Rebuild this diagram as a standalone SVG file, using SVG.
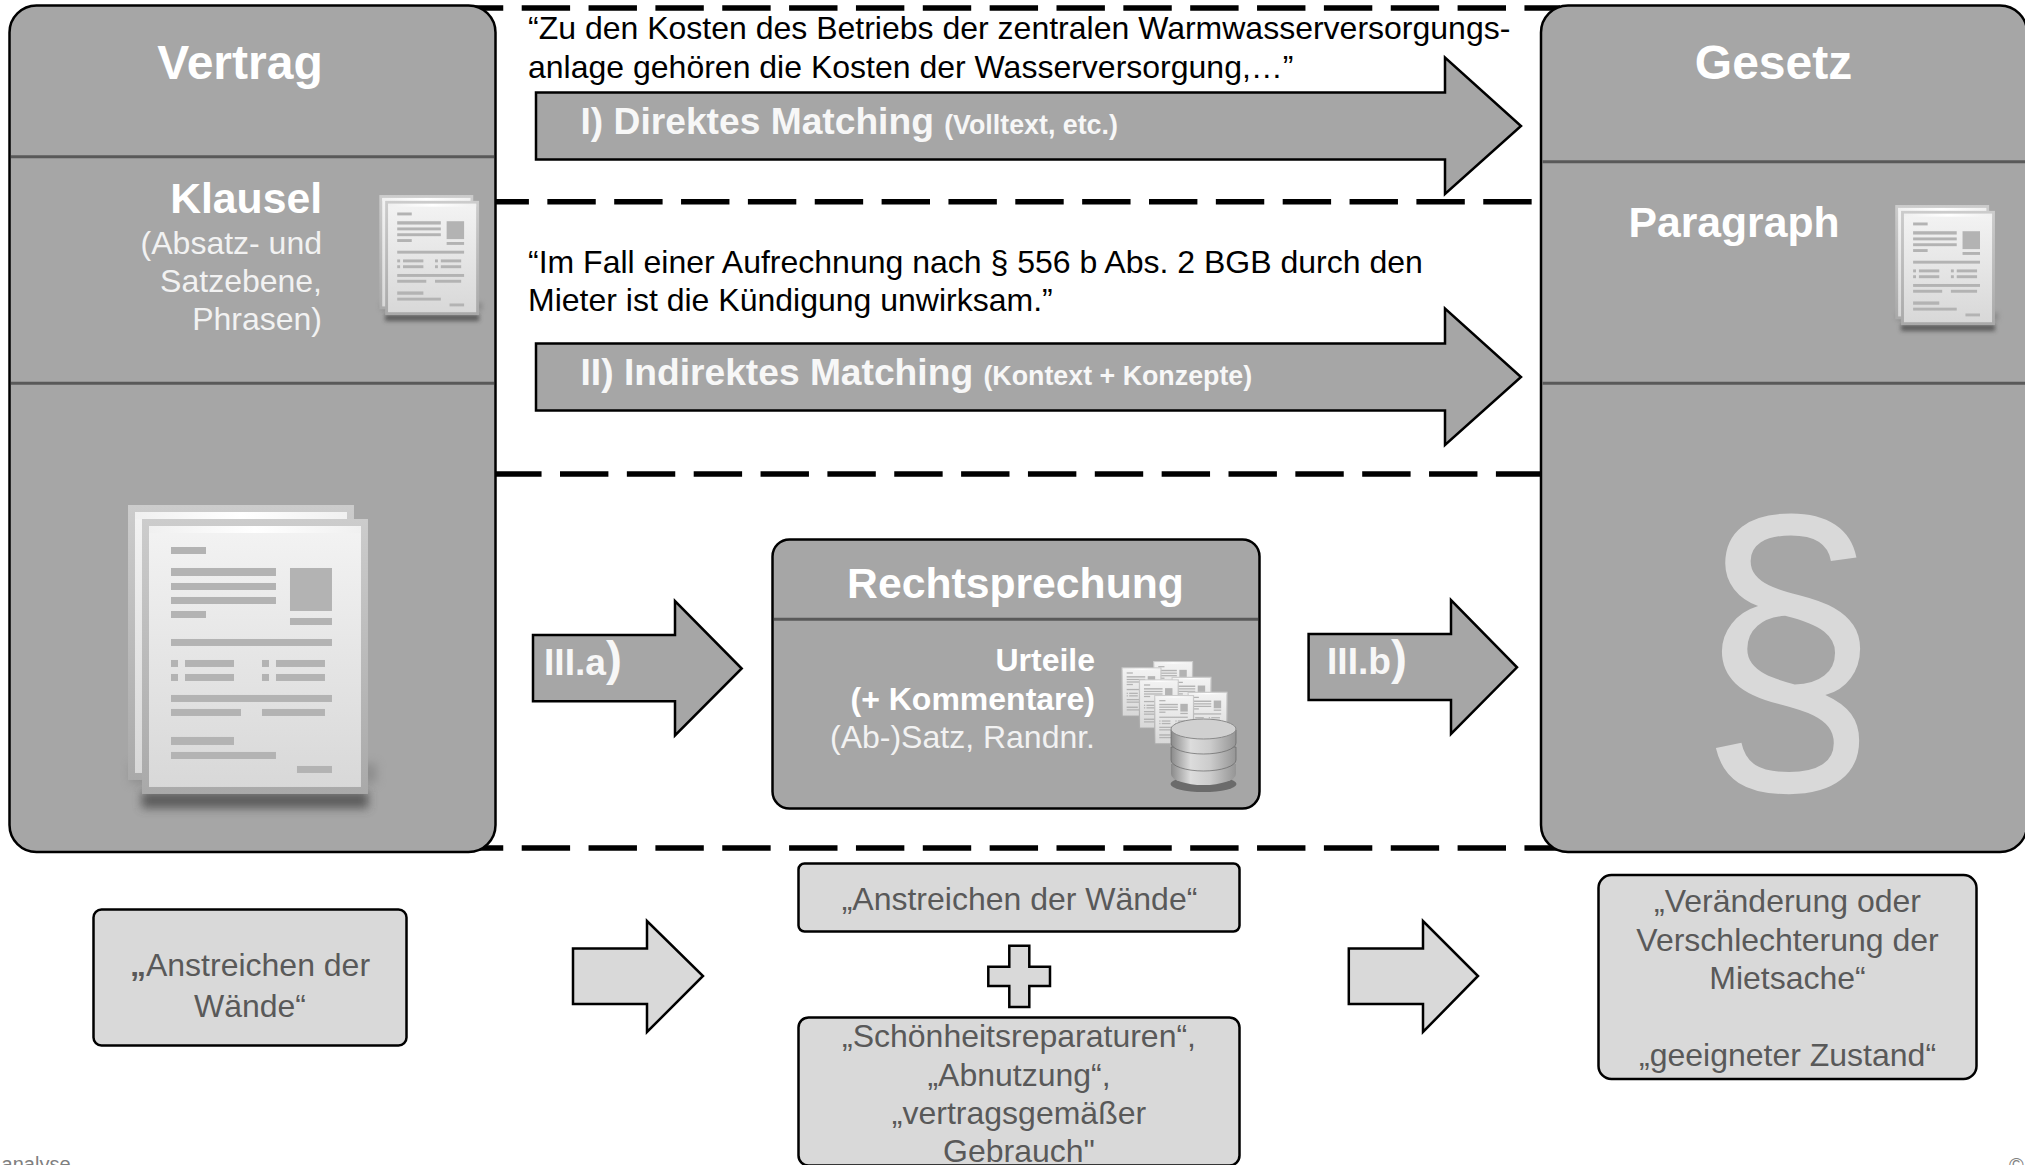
<svg xmlns="http://www.w3.org/2000/svg" xmlns:xlink="http://www.w3.org/1999/xlink" width="2025" height="1165" viewBox="0 0 2025 1165">
<style>
text{font-family:"Liberation Sans",Arial,sans-serif}
.panel{fill:#a6a6a6;stroke:#000;stroke-width:2.5}
.div{stroke:#595959;stroke-width:3;fill:none}
.dash{stroke:#000;stroke-width:5.5;stroke-dasharray:48.4 18.45;fill:none}
.arrow{fill:#a6a6a6;stroke:#000;stroke-width:2.5;stroke-linejoin:miter}
.light{fill:#d9d9d9;stroke:#000;stroke-width:2.5}
.lightarrow{fill:#d9d9d9;stroke:#000;stroke-width:2.5}
.h1{font-size:48px;font-weight:bold;fill:#fff}
.h2{font-size:42.7px;font-weight:bold;fill:#fff}
.sub{font-size:32px;fill:#f2f2f2}
.subb{font-size:32px;font-weight:bold;fill:#fff}
.q{font-size:32px;fill:#000}
.m{font-size:37.2px;font-weight:bold;fill:#f7f7f7}
.ms{font-size:26.8px;font-weight:bold}
.t{font-size:32px;fill:#595959;text-anchor:middle}
.e{text-anchor:end}
.c{text-anchor:middle}
.foot{font-size:20px;fill:#808080}
.bar{fill:#b3b3b3}
</style>
<defs>
<linearGradient id="sheet" x1="0" y1="0" x2="0" y2="1"><stop offset="0" stop-color="#f3f3f3"/><stop offset="1" stop-color="#d8d8d8"/></linearGradient>
<linearGradient id="edge" x1="0" y1="0" x2="0" y2="1"><stop offset="0" stop-color="#cccccc"/><stop offset="1" stop-color="#a9a9a9"/></linearGradient>
<linearGradient id="shine" x1="0" y1="0" x2="1" y2="0"><stop offset="0" stop-color="#f0f0f0"/><stop offset=".5" stop-color="#ffffff"/><stop offset="1" stop-color="#f0f0f0"/></linearGradient>
<linearGradient id="can" x1="0" y1="0" x2="1" y2="0"><stop offset="0" stop-color="#8a8a8a"/><stop offset=".3" stop-color="#dcdcdc"/><stop offset=".6" stop-color="#cccccc"/><stop offset="1" stop-color="#959595"/></linearGradient>
<filter id="blur" x="-20%" y="-100%" width="140%" height="300%"><feGaussianBlur stdDeviation="14"/></filter>
<g id="sheetg">
<rect x="126" y="147" width="678" height="825" fill="url(#edge)"/>
<rect x="147" y="168" width="636" height="783" fill="url(#sheet)"/>
<rect x="147" y="168" width="636" height="21" fill="url(#shine)"/>
<g class="bar">
<rect x="213" y="231" width="105" height="21"/><rect x="213" y="294" width="315" height="24"/><rect x="213" y="339" width="315" height="21"/><rect x="213" y="381" width="315" height="21"/><rect x="213" y="423" width="105" height="21"/>
<rect x="570" y="294" width="126" height="129"/><rect x="570" y="444" width="126" height="21"/><rect x="213" y="507" width="483" height="21"/>
<rect x="213" y="570" width="21" height="21"/><rect x="255" y="570" width="147" height="21"/><rect x="486" y="570" width="21" height="21"/><rect x="528" y="570" width="147" height="21"/>
<rect x="213" y="612" width="21" height="21"/><rect x="255" y="612" width="147" height="21"/><rect x="486" y="612" width="21" height="21"/><rect x="528" y="612" width="147" height="21"/>
<rect x="213" y="675" width="483" height="21"/><rect x="213" y="717" width="210" height="21"/><rect x="486" y="717" width="189" height="21"/>
<rect x="213" y="801" width="189" height="24"/><rect x="213" y="846" width="315" height="21"/><rect x="591" y="888" width="105" height="21"/>
</g>
</g>
<g id="doc">
<rect x="90" y="880" width="740" height="60" fill="#777" opacity=".5" filter="url(#blur)"/>
<rect x="125" y="965" width="680" height="50" fill="#444" opacity=".75" filter="url(#blur)"/>
<rect x="84" y="105" width="678" height="825" fill="url(#edge)"/>
<rect x="105" y="126" width="636" height="783" fill="url(#sheet)"/>
<rect x="105" y="126" width="636" height="21" fill="url(#shine)"/>
<use xlink:href="#sheetg" href="#sheetg"/>
</g>
</defs>
<rect width="2025" height="1165" fill="#fff"/>

<g id="connectors">
<g id="separators">
<path class="dash" d="M454.85 8H1560"/>
<path class="dash" d="M480.5 201.7H1532.3"/>
<path class="dash" d="M426.3 474H1560"/>
<path class="dash" d="M454.85 848H1560"/>
</g>
<g id="arrow-direct">
<path class="arrow" d="M536 92.5H1445V57.5L1521 126L1445 194V159.5H536Z"/>
<text class="m" x="580.5" y="134">I) Direktes Matching <tspan class="ms">(Volltext, etc.)</tspan></text>
</g>
<g id="arrow-indirect">
<path class="arrow" d="M536 343.5H1445V308.5L1521 377L1445 445V410.5H536Z"/>
<text class="m" x="580.5" y="385">II) Indirektes Matching <tspan class="ms">(Kontext + Konzepte)</tspan></text>
</g>
<g id="arrow-3a">
<path class="arrow" d="M533 635H675V601L741.7 668.5L675 735.5V701.3H533Z"/>
<text class="m" x="544" y="675">III.a<tspan font-size="48">)</tspan></text>
</g>
<g id="arrow-3b">
<path class="arrow" d="M1308.6 634H1451V600L1517 667.3L1451 734V700H1308.6Z"/>
<text class="m" x="1327" y="674.3">III.b<tspan font-size="48">)</tspan></text>
</g>
<path id="arrow-low-1" class="lightarrow" d="M573 948.5H647V921L703 976L647 1032V1004H573Z"/>
<path id="arrow-low-2" class="lightarrow" d="M1348.8 948.5H1423V921L1478 976L1423 1032V1004H1348.8Z"/>
<path id="plus" class="lightarrow" d="M1009.3 945.7H1029.3V966.7H1050V986H1029.3V1007H1009.3V986H988.3V966.7H1009.3Z"/>
</g>

<g id="quotes">
<text class="q" x="528" y="39">“Zu den Kosten des Betriebs der zentralen Warmwasserversorgungs-</text>
<text class="q" x="528" y="78">anlage gehören die Kosten der Wasserversorgung,…”</text>
<text class="q" x="528" y="273">“Im Fall einer Aufrechnung nach § 556 b Abs. 2 BGB durch den</text>
<text class="q" x="528" y="311">Mieter ist die Kündigung unwirksam.”</text>
</g>

<g id="vertrag">
<rect class="panel" x="9.5" y="5.5" width="486" height="846.5" rx="27"/>
<path class="div" d="M11 156.7H494M11 383.3H494"/>
<text class="h1 c" x="240" y="78.5">Vertrag</text>
<text class="h2 e" x="322" y="213">Klausel</text>
<text class="sub e" x="322" y="254">(Absatz- und</text>
<text class="sub e" x="322" y="292">Satzebene,</text>
<text class="sub e" x="322" y="330">Phrasen)</text>
<use xlink:href="#doc" href="#doc" transform="translate(367.7 180.5) scale(.1385)"/>
<use xlink:href="#doc" href="#doc" transform="translate(100 470) scale(.3333)"/>
</g>

<g id="gesetz">
<rect class="panel" x="1541" y="5.5" width="486" height="846.5" rx="27"/>
<path class="div" d="M1542.5 161.7H2025M1542.5 383.3H2025"/>
<text class="h1 c" x="1773.5" y="78.5">Gesetz</text>
<text class="h2 c" x="1734" y="236.7">Paragraph</text>
<use xlink:href="#doc" href="#doc" transform="translate(1883.6 190.5) scale(.1385)"/>
<text class="c" transform="translate(1788 765) scale(1.083 1.157)" font-size="300" fill="#d9d9d9">§</text>
</g>

<g id="rechtsprechung">
<rect class="panel" x="772.5" y="539.5" width="487" height="269" rx="17"/>
<path class="div" d="M774 619.3H1258"/>
<text class="h2 c" x="1015.5" y="598.3">Rechtsprechung</text>
<text class="subb e" x="1095" y="671">Urteile</text>
<text class="subb e" x="1095" y="710.3">(+ Kommentare)</text>
<text class="sub e" x="1095" y="748">(Ab-)Satz, Randnr.</text>
<g id="db">
<use xlink:href="#sheetg" href="#sheetg" transform="translate(1145.7 652.2) scale(.059 .06)"/>
<use xlink:href="#sheetg" href="#sheetg" transform="translate(1114.1 658.5) scale(.059 .06)"/>
<use xlink:href="#sheetg" href="#sheetg" transform="translate(1164.1 667.9) scale(.059 .06)"/>
<use xlink:href="#sheetg" href="#sheetg" transform="translate(1131.4 670.5) scale(.059 .06)"/>
<use xlink:href="#sheetg" href="#sheetg" transform="translate(1180.1 682.9) scale(.059 .06)"/>
<use xlink:href="#sheetg" href="#sheetg" transform="translate(1146.7 686.2) scale(.059 .06)"/>
<ellipse cx="1203.5" cy="784" rx="33" ry="8" fill="#444" opacity=".6"/>
<path d="M1171 764V774A32.5 11 0 0 0 1236 774V764Z" fill="url(#can)"/>
<path d="M1171 747V760A32.5 11 0 0 0 1236 760V747Z" fill="url(#can)" stroke="#666" stroke-width=".7"/>
<path d="M1171 730V743A32.5 11 0 0 0 1236 743V730Z" fill="url(#can)" stroke="#666" stroke-width=".7"/>
<ellipse cx="1203.5" cy="729" rx="32.5" ry="10" fill="#d0d0d0" stroke="#8a8a8a"/>
</g>
</g>

<g id="box-left">
<rect class="light" x="93.5" y="909.5" width="313" height="136" rx="8"/>
<text class="t" x="250" y="976"><tspan font-weight="bold">„</tspan>Anstreichen der</text>
<text class="t" x="250" y="1016.7">Wände“</text>
</g>
<g id="box-mid-top">
<rect class="light" x="798.5" y="863.5" width="441" height="68" rx="6"/>
<text class="t" x="1019.5" y="910">„Anstreichen der Wände“</text>
</g>
<g id="box-mid-bottom">
<rect class="light" x="798.5" y="1017.5" width="441" height="148" rx="10"/>
<text class="t" x="1019" y="1046.7">„Schönheitsreparaturen“,</text>
<text class="t" x="1019" y="1085.7">„Abnutzung“,</text>
<text class="t" x="1019" y="1124.3">„vertragsgemäßer</text>
<text class="t" x="1019" y="1161.7">Gebrauch"</text>
</g>
<g id="box-right">
<rect class="light" x="1598.5" y="875" width="378" height="204" rx="13"/>
<text class="t" x="1787.5" y="911.7">„Veränderung oder</text>
<text class="t" x="1787.5" y="950.7">Verschlechterung der</text>
<text class="t" x="1787.5" y="989.3">Mietsache“</text>
<text class="t" x="1787.5" y="1066">„geeigneter Zustand“</text>
</g>
<g id="footer">
<text class="foot e" x="70.5" y="1171">analyse</text>
<text class="foot" x="2009" y="1172" font-size="22">©</text>
</g>
</svg>
